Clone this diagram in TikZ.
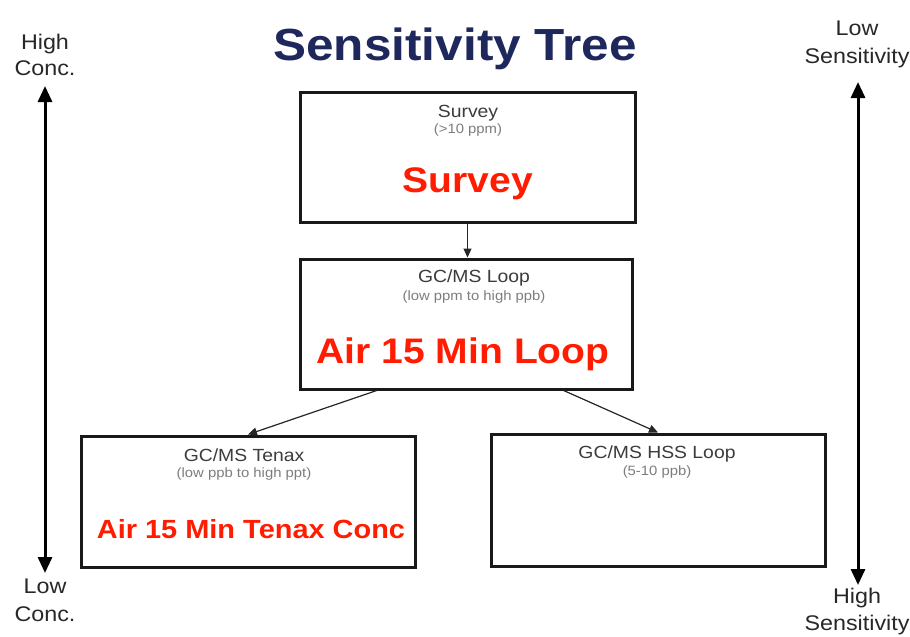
\documentclass[tikz,border=0pt]{standalone}
\usepackage{fontspec}
\setmainfont[FakeStretch=1.1]{Liberation Sans}
\usetikzlibrary{arrows.meta,calc}
\definecolor{navy}{RGB}{31,40,92}
\definecolor{hotred}{RGB}{255,28,0}
\definecolor{hdrgray}{RGB}{60,60,60}
\definecolor{subgray}{RGB}{125,125,125}
\definecolor{sidegray}{RGB}{40,40,40}
\newcommand{\fs}[1]{\fontsize{#1}{#1}\selectfont}
\begin{document}
\begin{tikzpicture}[x=1pt,y=-1pt,
  box/.style={draw=black!90, line width=3pt, fill=white, inner sep=0pt},
  hdr/.style={anchor=base, inner sep=0pt, text=hdrgray, font=\fs{17.6}},
  sub/.style={anchor=base, inner sep=0pt, text=subgray, font=\fs{13.5}},
  big/.style={anchor=base, inner sep=0pt, text=hotred, font=\bfseries\fs{35.5}},
  side/.style={anchor=base, inner sep=0pt, text=sidegray, font=\fs{21.2}},
  conn/.style={draw=black!85, line width=1.2pt, -{Triangle[width=8pt,length=9pt]}},
  bigarrow/.style={draw=black, line width=3pt, {Triangle[width=14pt,length=16pt]}-{Triangle[width=14pt,length=16pt]}}
]
\useasboundingbox[fill=white] (0,0) rectangle (910,637);

% title
\node[anchor=base, inner sep=0pt, text=navy, font=\bfseries\fs{45}] (title) at (455,60) {Sensitivity Tree};

% boxes
\node[box, minimum width=335pt, minimum height=130pt] (survey) at (467.5,157) {};
\node[box, minimum width=332pt, minimum height=130pt] (loop) at (466.5,324) {};
\node[box, minimum width=334pt, minimum height=131pt] (tenax) at (248,501.5) {};
\node[box, minimum width=334pt, minimum height=132pt] (hss) at (658,500) {};

% box texts
\node[hdr] (surveyH) at (468,117) {Survey};
\node[sub] (surveyS) at (468,133) {(>10 ppm)};
\node[big] (surveyB) at (468,192) {Survey};

\node[hdr] (loopH) at (474,282) {GC/MS Loop};
\node[sub] (loopS) at (474,300) {(low ppm to high ppb)};
\node[big] (loopB) at (463,363) {Air 15 Min Loop};

\node[hdr] (tenaxH) at (244,461) {GC/MS Tenax};
\node[sub] (tenaxS) at (244,477) {(low ppb to high ppt)};
\node[big, font=\bfseries\fs{26.3}] (tenaxB) at (251,538) {Air 15 Min Tenax Conc};

\node[hdr] (hssH) at (657,458) {GC/MS HSS Loop};
\node[sub] (hssS) at (657,475) {(5-10 ppb)};

% connectors
\draw[conn] (survey.south) -- (survey.south |- loop.north);
\draw[conn] ($(loop.south west)!0.232!(loop.south east)$) -- (tenax.north);
\draw[conn] ($(loop.south west)!0.79!(loop.south east)$) -- (hss.north);

% side scales
\node[side] (hiA) at (45,49) {High};
\node[side] (hiB) at (45,75) {Conc.};
\node[side] (loA) at (45,593) {Low};
\node[side] (loB) at (45,621) {Conc.};
\coordinate (lt) at (45,86);
\coordinate (lb) at (45,573);
\draw[bigarrow] (lt) -- (lb);

\node[side] (lsA) at (857,35) {Low};
\node[side] (lsB) at (857,63) {Sensitivity};
\node[side] (hsA) at (857,603) {High};
\node[side] (hsB) at (857,630) {Sensitivity};
\coordinate (rt) at (858,82);
\coordinate (rb) at (858,585);
\draw[bigarrow] (rt) -- (rb);
\end{tikzpicture}
\end{document}
